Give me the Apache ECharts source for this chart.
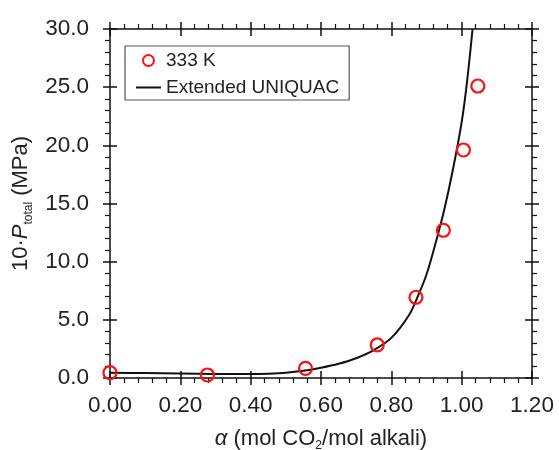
<!DOCTYPE html>
<html>
<head>
    <meta charset="utf-8"/>
    <title>P total vs alpha</title>
    <script type="text/javascript" src="https://cdn.jsdelivr.net/npm/echarts@6/dist/echarts.min.js"></script>
    <style>
        html, body { margin: 0; padding: 0; background: #fff; }
        #main { width: 559px; height: 450px; }
    </style>
</head>
<body>
<div id="main"></div>
<script type="text/javascript">
    // 实验点 333 K
    var expAlpha = [0.000, 0.277, 0.556, 0.760, 0.870, 0.948, 1.005, 1.046];
    var expP = [0.46, 0.26, 0.83, 2.84, 6.94, 12.7, 19.6, 25.1];
    // Extended UNIQUAC 曲线
    var curveAlpha = [0.00, 0.10, 0.20, 0.30, 0.40, 0.45, 0.50, 0.55, 0.60, 0.65, 0.70, 0.75, 0.80, 0.85, 0.875, 0.90, 0.925, 0.95, 0.975, 1.00, 1.015, 1.031];
    var curveP = [0.45, 0.42, 0.38, 0.35, 0.34, 0.37, 0.45, 0.62, 0.88, 1.22, 1.70, 2.40, 3.45, 5.40, 7.00, 8.90, 11.5, 14.4, 17.9, 22.0, 25.4, 30.0];
    var seriesNames = ['333 K', 'Extended UNIQUAC'];

    var FONT = '"Liberation Sans", Arial, sans-serif';
    var myChart = echarts.init(document.getElementById('main'));

    function pairs(xs, ys) {
        var out = [];
        for (var i = 0; i < xs.length; i++) out.push([xs[i], ys[i]]);
        return out;
    }

    var richTxt = {
        t: {fontSize: 22, fontFamily: FONT, color: '#222', lineHeight: 26},
        i: {fontSize: 22, fontFamily: FONT, color: '#222', fontStyle: 'italic', lineHeight: 26},
        s: {fontSize: 12, fontFamily: FONT, color: '#222', lineHeight: 12, verticalAlign: 'bottom'}
    };

    // 外侧刻度 + 次刻度的主轴
    function outAxis(pos, isX, showLabel) {
        return {
            type: 'value',
            position: pos,
            min: 0,
            max: isX ? 1.2 : 30,
            interval: isX ? 0.2 : 5,
            splitLine: {show: false},
            axisLine: {show: true, onZero: false, lineStyle: {color: '#111', width: 1.5}},
            axisTick: {show: true, inside: false, length: 7, lineStyle: {color: '#111', width: 1.5}},
            minorTick: {show: true, splitNumber: 5, length: 5, lineStyle: {color: '#111', width: 1.2}},
            axisLabel: {
                show: showLabel,
                fontSize: 22.5,
                fontFamily: FONT,
                color: '#222',
                margin: isX ? 16 : 21,
                formatter: function (v) { return v.toFixed(isX ? 2 : 1); }
            }
        };
    }
    // 内侧刻度（与外侧组成穿轴刻度）
    function inAxis(pos, isX) {
        return {
            type: 'value',
            position: pos,
            min: 0,
            max: isX ? 1.2 : 30,
            interval: isX ? 0.2 : 5,
            splitLine: {show: false},
            axisLine: {show: false, onZero: false},
            axisTick: {show: true, inside: true, length: 7, lineStyle: {color: '#111', width: 1.5}},
            minorTick: {show: false},
            axisLabel: {show: false}
        };
    }

    var xMain = outAxis('bottom', true, true);
    xMain.name = '{i|α}{t| (mol CO}{s|2}{t|/mol alkali)}';
    xMain.nameLocation = 'middle';
    xMain.nameGap = 48;
    xMain.nameTextStyle = {rich: richTxt};

    var yMain = outAxis('left', false, true);
    yMain.name = '{t|10·}{i|P}{s|total}{t| (MPa)}';
    yMain.nameLocation = 'middle';
    yMain.nameGap = 66;
    yMain.nameTextStyle = {rich: richTxt};

    var chartOption = {
        animation: false,
        grid: {left: 110, right: 27, top: 29, bottom: 72, containLabel: false, outerBoundsMode: 'none'},
        legend: {
            orient: 'vertical',
            left: 125,
            top: 46,
            padding: [5, 10, 3, 10],
            itemGap: 8,
            itemWidth: 25,
            itemHeight: 11,
            borderColor: '#555',
            borderWidth: 1.2,
            textStyle: {fontSize: 19, fontFamily: FONT, color: '#222'},
            data: [
                {name: seriesNames[0]},
                {name: seriesNames[1], itemStyle: {opacity: 0}}
            ]
        },
        xAxis: [xMain, inAxis('bottom', true), outAxis('top', true, false), inAxis('top', true)],
        yAxis: [yMain, inAxis('left', false), outAxis('right', false, false), inAxis('right', false)],
        series: [
            {
                name: seriesNames[0],
                type: 'scatter',
                symbol: 'circle',
                symbolSize: 13,
                clip: false,
                itemStyle: {color: 'rgba(0,0,0,0)', borderColor: '#ff1010', borderWidth: 2.2, opacity: 1},
                data: pairs(expAlpha, expP),
                z: 3
            },
            {
                name: seriesNames[1],
                type: 'line',
                smooth: 0.3,
                symbol: 'none',
                showSymbol: false,
                lineStyle: {color: '#111', width: 2},
                itemStyle: {color: '#111'},
                data: pairs(curveAlpha, curveP),
                z: 2
            }
        ]
    };
    myChart.setOption(chartOption);
</script>
</body>
</html>
